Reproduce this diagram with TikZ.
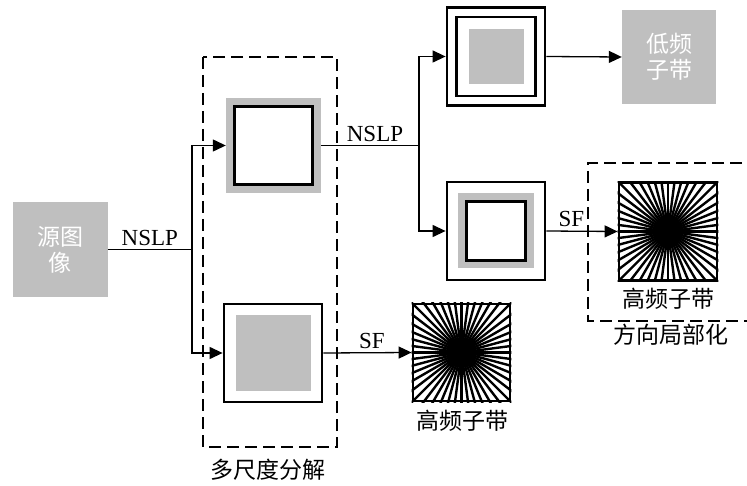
\documentclass[tikz,border=0pt]{standalone}
\usepackage{fontspec}
\setmainfont{Liberation Serif}
\newfontfamily\cjk{Noto Sans CJK SC}
\usetikzlibrary{arrows.meta}
\definecolor{boxgray}{RGB}{191,191,191}
\begin{document}
\begin{tikzpicture}[x=1pt,y=-1pt,>={Triangle[length=13pt,width=12pt]}]

    \tikzset{
      graybox/.style={
        fill=boxgray,
        text=white,
        inner sep=0pt,
        align=center,
        font=\cjk\fontsize{23}{26}\selectfont,
      },
      frame/.style={draw=black, line width=2.8pt, inner sep=0pt},
      link/.style={line width=1.3pt},
      region/.style={line width=2.8pt, dash pattern=on 12pt off 6pt},
      lbl/.style={font=\fontsize{23}{26}\selectfont},
      cn/.style={font=\cjk\fontsize{23}{26}\selectfont},
    }
    \clip (0,0) rectangle (747,486);
	% source and low band
	\node[graybox, minimum size=95pt] (src) at (60,249.5) {源图\\像};
	\node[graybox, minimum size=94pt] (low) at (669,57) {低频\\子带};
	% multiscale stage
	\node[fill=boxgray, inner sep=0pt, minimum size=95pt] (m1) at (273.5,145.5) {};
	\node[frame, fill=white, minimum size=78pt] (m1in) at (m1) {};
	\node[frame, minimum size=98pt] (b1) at (273,353) {};
	\node[fill=boxgray, inner sep=0pt, minimum size=75pt] (b1in) at (b1) {};
	\node[frame, minimum size=98pt] (r1) at (496,56.5) {};
	\node[frame, minimum size=79pt] (r1mid) at (r1) {};
	\node[fill=boxgray, inner sep=0pt, minimum size=55pt] (r1in) at (r1) {};
	\node[frame, minimum size=98pt] (r2) at (496,231) {};
	\node[fill=boxgray, inner sep=0pt, minimum width=76pt, minimum height=75pt] (r2mid) at (r2) {};
	\node[frame, fill=white, minimum size=59pt] (r2in) at (r2) {};
	% directional subbands
	\node[frame, minimum size=97pt] (s1) at (461.5,352.5) {};
	\node[frame, minimum size=98pt] (s2) at (668,231.5) {};
	\foreach \s in {s1,s2}{
	  \begin{scope}
	    \clip (\s.south west) rectangle (\s.north east);
	    \foreach \a in {0,7.5,...,352.5}
	      \draw[line width=2.4pt] (\s.center) -- ++(\a:90pt);
	  \end{scope}
	  \fill (\s.center) circle (15pt);
	}
	% connectors
	\coordinate (split1) at (192,249.5);
	\coordinate (split2) at (419,145.5);
	\draw[link] (src.east) -- (split1) node[lbl, midway, above] {NSLP};
	\draw[link,->] (split1) |- (m1.west);
	\draw[link,->] (split1) |- (b1.west);
	\draw[link] (m1.east) -- (split2) node[lbl, pos=0.55, above] {NSLP};
	\draw[link,->] (split2) |- (r1.west);
	\draw[link,->] (split2) |- (r2.west);
	\draw[link,->] (r1.east) -- (low.west);
	\draw[link,->] (r2.east) -- (s2.west) node[lbl, pos=0.35, above] {SF};
	\draw[link,->] (b1.east) -- (s1.west) node[lbl, pos=0.55, above] {SF};
	% labels
	\node[cn] (s1txt) at (462,421) {高频子带};
	\node[cn] (s2txt) at (668,299) {高频子带};
	\node[cn] (dirtxt) at (671,335) {方向局部化};
	\node[cn] (mstxt) at (268,470) {多尺度分解};
	% dashed regions
	\draw[region] (203,57) rectangle (337,447);
	\draw[region] (760,163) -- (588,163) -- (588,321) -- (760,321);

\end{tikzpicture}
\end{document}
